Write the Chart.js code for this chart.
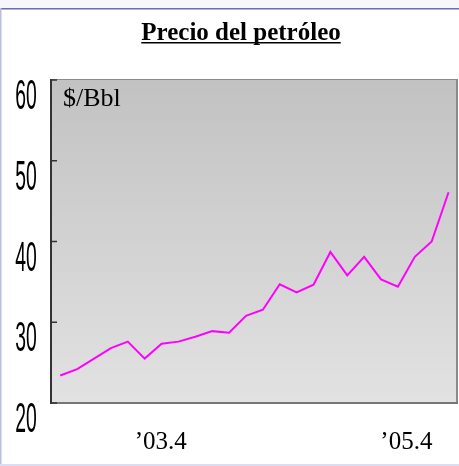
<!DOCTYPE html>
<html>
<head>
<meta charset="utf-8">
<script src="https://cdn.jsdelivr.net/npm/chart.js@4"></script>
<style>
  html, body { margin: 0; padding: 0; background: #fff; overflow: hidden; }
  #wrap { width: 459px; height: 466px; }
</style>
</head>
<body>
<div id="wrap"><canvas id="grafico" width="459" height="466"></canvas></div>
<script>
// Datos
const precios = [23.4, 24.2, 25.5, 26.8, 27.6, 25.5, 27.35, 27.6, 28.2, 28.9, 28.7, 30.8,
                 31.55, 34.7, 33.7, 34.65, 38.7, 35.8, 38.1, 35.3, 34.4, 38.1, 40.0, 46.1];
const ticksY = [20, 30, 40, 50, 60];
const etiquetasX = ['\u201903.4', '\u201905.4'];
const posicionEtiquetasX = [5.95, 20.5];
const titulo = 'Precio del petróleo';
const unidad = '$/Bbl';

const marco = {
  id: 'marco',
  beforeDraw(chart) {
    const { ctx, chartArea: ca } = chart;
    ctx.save();
    ctx.fillStyle = '#ffffff';
    ctx.fillRect(0, 0, chart.width, chart.height);
    ctx.fillStyle = '#f7f7fb';
    ctx.fillRect(0, 0, chart.width, 8);
    ctx.fillStyle = '#6b6bb5';
    ctx.fillRect(0, 8, chart.width, 1.5);
    ctx.fillStyle = '#bcbce6';
    ctx.fillRect(0, 8, 1.5, chart.height);
    ctx.fillStyle = '#dcdcf2';
    ctx.fillRect(0, chart.height - 2, chart.width, 2);

    // fondo degradado del área de trazado
    const grad = ctx.createLinearGradient(0, ca.top, 0, ca.bottom);
    grad.addColorStop(0, '#c2c2c2');
    grad.addColorStop(1, '#e2e2e2');
    ctx.fillStyle = grad;
    ctx.fillRect(ca.left, ca.top, ca.right - ca.left, ca.bottom - ca.top);
    ctx.restore();
  },
  afterDraw(chart) {
    const { ctx, chartArea: ca, scales } = chart;
    ctx.save();

    // bordes
    ctx.fillStyle = '#8a8a8a';
    ctx.fillRect(ca.left, ca.top - 1, ca.right - ca.left, 1);
    ctx.fillRect(ca.right - 1, ca.top - 1, 2, ca.bottom - ca.top + 1);
    ctx.fillStyle = '#777777';
    ctx.fillRect(ca.left, ca.bottom - 1, ca.right - ca.left + 1, 2);
    ctx.fillStyle = '#333333';
    ctx.fillRect(ca.left - 1, ca.top - 1, 2, ca.bottom - ca.top + 2);

    // marcas del eje Y y etiquetas
    ticksY.forEach(v => {
      const y = scales.y.getPixelForValue(v);
      ctx.fillStyle = '#333333';
      ctx.fillRect(ca.left, y - 0.75, 6, 1.5);
      ctx.save();
      ctx.translate(26, y + 29);
      ctx.scale(0.45, 1);
      ctx.fillStyle = '#000';
      ctx.font = '43px "Liberation Sans"';
      ctx.textAlign = 'center';
      ctx.textBaseline = 'alphabetic';
      ctx.fillText(String(v), 0, 0);
      ctx.restore();
    });

    // etiquetas del eje X
    ctx.fillStyle = '#000';
    ctx.font = '25px "Liberation Serif"';
    ctx.textAlign = 'center';
    ctx.textBaseline = 'alphabetic';
    etiquetasX.forEach((t, i) => {
      ctx.fillText(t, scales.x.getPixelForValue(posicionEtiquetasX[i]), 449);
    });

    // título subrayado
    ctx.font = 'bold 25px "Liberation Serif"';
    ctx.fillText(titulo, 241, 39.5);
    const w = ctx.measureText(titulo).width;
    ctx.fillRect(241 - w / 2, 42, w, 1.5);

    // unidad
    ctx.font = '26px "Liberation Serif"';
    ctx.textAlign = 'left';
    ctx.fillText(unidad, ca.left + 12, 106);

    ctx.restore();
  }
};

new Chart(document.getElementById('grafico'), {
  type: 'line',
  data: {
    datasets: [{
      data: precios.map((p, i) => ({ x: i, y: p })),
      borderColor: '#ff00ff',
      borderWidth: 2,
      pointRadius: 0,
      tension: 0,
      fill: false
    }]
  },
  options: {
    responsive: false,
    animation: false,
    layout: { padding: { left: 51, right: 2, top: 80, bottom: 63 } },
    plugins: {
      legend: { display: false },
      tooltip: { enabled: false },
      title: { display: false }
    },
    scales: {
      x: { type: 'linear', display: false, min: -0.55, max: 23.5 },
      y: { display: false, min: 20, max: 60 }
    }
  },
  plugins: [marco]
});
</script>
</body>
</html>
